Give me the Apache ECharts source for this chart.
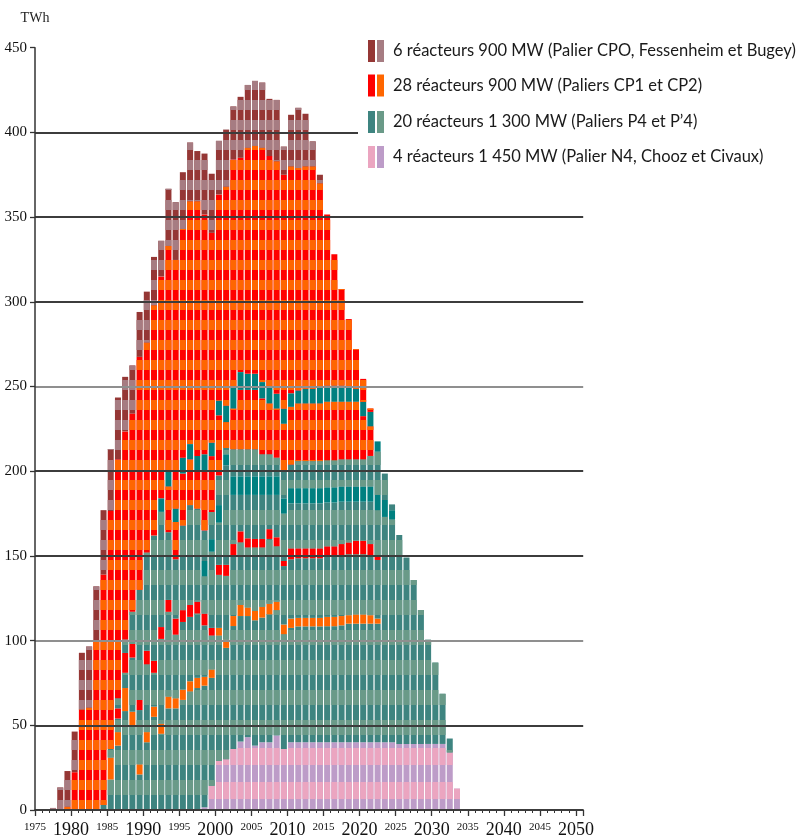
<!DOCTYPE html>
<html><head><meta charset="utf-8">
<script src="https://cdn.jsdelivr.net/npm/echarts@6/dist/echarts.min.js"></script>
<style>html,body{margin:0;padding:0;background:#fff}#c{width:798px;height:839px}</style>
</head><body><div id="c"></div>
<script>
// Axis categories: one slot per year, 1975 .. 2050
const axisYears = [1975,1976,1977,1978,1979,1980,1981,1982,1983,1984,1985,1986,1987,1988,1989,1990,1991,1992,1993,1994,1995,1996,1997,1998,1999,2000,2001,2002,2003,2004,2005,2006,2007,2008,2009,2010,2011,2012,2013,2014,2015,2016,2017,2018,2019,2020,2021,2022,2023,2024,2025,2026,2027,2028,2029,2030,2031,2032,2033,2034,2035,2036,2037,2038,2039,2040,2041,2042,2043,2044,2045,2046,2047,2048,2049,2050];
// Years that have a bar
const years = [1977,1978,1979,1980,1981,1982,1983,1984,1985,1986,1987,1988,1989,1990,1991,1992,1993,1994,1995,1996,1997,1998,1999,2000,2001,2002,2003,2004,2005,2006,2007,2008,2009,2010,2011,2012,2013,2014,2015,2016,2017,2018,2019,2020,2021,2022,2023,2024,2025,2026,2027,2028,2029,2030,2031,2032,2033];

// Stacked layers, bottom to top (TWh)
// N4 (1 450 MW)
const n4 = [0,0,0,0,0,0,0,0,0,0,0,0,0,0,0,0,0,0,0,0,0,1.6,14.3,29,30,36,40.4,43,38,40,40,44,36,40,40,40,40,40,40,40,40,40,40,40,40,40,40,40,39,39,39,39,39,39,39,34,12.6];
// 1 300 MW, lower block
const p4a = [0,0,0,0,0,0,0,3,18,38,58.4,50,21,40,55,45,60,60,65,70,72,71.8,63.7,74,65.7,72.6,74.1,71.5,74,73.6,75.5,74,67.8,67.5,68.4,68.4,68.4,68.4,68.5,68.5,69,70,70,70,70,70,133,131.5,123.4,110,96.8,79,61.5,48,29.6,8.2,0];
// one 900 MW CP reactor interleaved (orange)
const cpA = [0,0,0,0,0,0,0,0,13,8,13.6,8,6,6,6,6,7,6,6,6,6,5.2,5,4.5,4.9,5.9,6.5,5.1,5.6,6.4,6.3,5,5.7,5.5,5,5,5,5,5.5,5.5,5.5,5,5.5,5.5,5,3,0,0,0,0,0,0,0,0,0,0,0];
// 1 300 MW
const p4b = [0,0,0,0,0,0,0,0,5,8,9,32,32,40,20,50,50,37.5,40,38,38,30.4,20,31.3,37.6,35.5,37,35.4,37.4,35,38.2,32.7,34.5,35,35.2,35.2,35.2,35.2,35.8,35.8,36,36,35.5,35.5,35,34.6,0,0,0,0,0,0,0,0,0,0,0];
// one 900 MW CP reactor interleaved (red)
const cpB = [0,0,0,0,0,0,0,0,0,6,11.7,8,6,8,7,7,7,9.5,7,7,7,7,4.5,5.9,6.5,7,6.5,5.4,5,5,5.8,5.3,3,6.5,5.9,5.9,5.9,5.9,5.9,5.9,6.5,7,8,8,7,2.4,0,0,0,0,0,0,0,0,0,0,0];
// 1 300 MW
const p4c = [0,0,0,0,0,0,0,0,0,6,7.9,19,65,58,74,68,40,35,50,59,55,22,45,25,58.8,29,21.5,25.6,26,26,20.2,25,28,26.5,26.5,26.5,26.5,26.5,25.8,25.8,25,24,23,23,25,27,0,0,0,0,0,0,0,0,0,0,0];
// 1 300 MW reactor drawn in bright teal
const tx1 = [0,0,0,0,0,0,0,0,0,0,0,0,0,0,0,8,0,0,0,0,0,9,7.4,10.3,6.5,11,11,11,11,11,11,11,9,9,9,9,9,9,9,9,9,9,9,9,9,9,10,5.5,0,0,0,0,0,0,0,0,0];
// 1 300 MW
const p4d = [0,0,0,0,0,0,0,0,0,0,0,0,0,0,0,0,0,0,0,0,0,18,16,17.5,3.7,16,16,16,16,13,13,11,16,14,16,16,16,16,16,16,16,16,16,16,18,25.6,15.6,3.4,0,0,0,0,0,0,0,0,0];
// 900 MW CP reactors interleaved
const cpC = [0,0,0,0,0,0,0,0,0,0,0,0,0,0,0,0,27,22,30.6,27,22,35,33,35.5,15.3,24,35,35,35,33,30,29,28,34,34,34,34,34,34.5,34.5,34,34,34,25.5,17.5,0,0,0,0,0,0,0,0,0,0,0,0];
// 1 300 MW reactor drawn in bright teal
const tx2 = [0,0,0,0,0,0,0,0,0,0,0,0,0,0,0,0,9,8,9.4,9,9,10,8,8.8,9.8,13,10.5,9.5,9.5,9.6,9.6,8.7,9,8,7.7,8.6,8.6,9.6,9.6,9.6,9.6,8.6,7.6,8.5,8.5,6,0,0,0,0,0,0,0,0,0,0,0];
// 900 MW CP1/CP2 main block
const cp = [0,0,2,22.3,59.4,60.5,100,136,140.5,141,122.9,117,137.5,124,136,131,133,146.7,135,143.4,150.4,141.6,123.8,121.6,129.2,134,126.5,133.5,134.5,138.4,136.4,137.3,138,134,131.3,131.4,131.4,120.4,101,77.4,56.9,40.2,23.4,13.5,2,0,0,0,0,0,0,0,0,0,0,0,0];
// 900 MW CP0, Fessenheim & Bugey
const cp0 = [1.2,13.3,21,24,33.4,36,32,38,36.5,36.5,32.2,28.4,26.5,30,28.5,21,33.7,34.1,33.5,34.6,29.6,35.9,34.9,31.6,33.6,31.3,36,37,38.4,38.4,33.8,36.2,16.6,30.4,35.5,31,14.7,5,0,0,0,0,0,0,0,0,0,0,0,0,0,0,0,0,0,0,0];

const legendNames = [
  '6 réacteurs 900 MW (Palier CPO, Fessenheim et Bugey)',
  '28 réacteurs 900 MW (Paliers CP1 et CP2)',
  '20 réacteurs 1 300 MW (Paliers P4 et P’4)',
  '4 réacteurs 1 450 MW (Palier N4, Chooz et Civaux)'
];
const yTicks = [0,50,100,150,200,250,300,350,400,450];

const C = {
  cp0: ['#953735', '#A67C82'],
  cp:  ['#FF0000', '#FF6600'],
  p4:  ['#3E8480', '#6A9A88'],
  n4:  ['#EBA5C0', '#BD9CC8'],
  teal: '#008080'
};

function stripe(color, h) {
  return {symbol: 'rect', symbolSize: 1, symbolKeepAspect: false, color: color,
          dashArrayX: [[8, 0]], dashArrayY: [h, h], rotation: 0};
}

const layers = [
  {name: legendNames[3], d: n4,  color: C.n4[1], decal: stripe(C.n4[0], 17)},
  {name: legendNames[2], d: p4a, color: C.p4[0], decal: stripe(C.p4[1], 15)},
  {name: legendNames[1], d: cpA, color: C.cp[1]},
  {name: legendNames[2], d: p4b, color: C.p4[0], decal: stripe(C.p4[1], 15)},
  {name: legendNames[1], d: cpB, color: C.cp[0]},
  {name: legendNames[2], d: p4c, color: C.p4[0], decal: stripe(C.p4[1], 15)},
  {name: legendNames[2], d: tx1, color: C.teal},
  {name: legendNames[2], d: p4d, color: C.p4[0], decal: stripe(C.p4[1], 15)},
  {name: legendNames[1], d: cpC, color: C.cp[0], decal: stripe(C.cp[1], 10)},
  {name: legendNames[2], d: tx2, color: C.teal},
  {name: legendNames[1], d: cp,  color: C.cp[0], decal: stripe(C.cp[1], 10)},
  {name: legendNames[0], d: cp0, color: C.cp0[0], decal: stripe(C.cp0[1], 10)}
];

const series = layers.map(function (L) {
  const st = {color: L.color};
  if (L.decal) st.decal = L.decal;
  return {
    type: 'bar', name: L.name, stack: 'total', barWidth: 6, silent: true,
    xAxisIndex: 0, yAxisIndex: 0, itemStyle: st,
    data: axisYears.map(function (y) {
      const i = years.indexOf(y);
      return i < 0 ? 0 : L.d[i];
    })
  };
});

const gridColors = yTicks.map(function (v) { return (v === 100 || v === 250) ? '#8f8f8f' : '#3c3c3c'; });

const rowY = [51, 85.5, 122, 157];
const legendColors = [C.cp0, C.cp, C.p4, C.n4];
const graphic = [{type: 'rect', z: 50, shape: {x: 358, y: 34, width: 440, height: 142}, style: {fill: '#fff'}}];
legendNames.forEach(function (n, i) {
  graphic.push({type: 'rect', z: 51, shape: {x: 368, y: rowY[i] - 11, width: 7, height: 22}, style: {fill: legendColors[i][0]}});
  graphic.push({type: 'rect', z: 51, shape: {x: 377, y: rowY[i] - 11, width: 7, height: 22}, style: {fill: legendColors[i][1]}});
  graphic.push({type: 'text', z: 51, x: 393, y: rowY[i], style: {text: n, fill: '#1a1a1a', font: '16.5px Lato', textVerticalAlign: 'middle'}});
});

const chart = echarts.init(document.getElementById('c'), null, {renderer: 'canvas'});
chart.setOption({
  animation: false,
  backgroundColor: '#fff',
  grid: {left: 35, right: 214.8, top: 47.7, bottom: 26.3, containLabel: false},
  xAxis: [{
    type: 'category', data: axisYears, boundaryGap: true, position: 'bottom',
    axisLine: {show: false}, axisTick: {show: false}, axisLabel: {show: false}, splitLine: {show: false}
  }, {
    type: 'value', min: 1975, max: 2051, interval: 5, position: 'bottom', z: 5,
    axisLine: {show: true, onZero: false, lineStyle: {color: '#333', width: 1.5}},
    axisTick: {show: true, length: 6, lineStyle: {color: '#333', width: 1.3}},
    splitLine: {show: false},
    axisLabel: {
      margin: 11, verticalAlign: 'top', color: '#111',
      formatter: function (v) {
        if (v % 10 === 0) return '{b|' + v + '}';
        if (v % 5 === 0) return '{s|' + v + '}';
        return '';
      },
      rich: {
        b: {fontSize: 18, fontFamily: 'Liberation Serif', color: '#111', lineHeight: 18},
        s: {fontSize: 11, fontFamily: 'Liberation Serif', color: '#111', lineHeight: 13}
      }
    }
  }, {
    type: 'value', min: 1975, max: 2051, interval: 1, position: 'bottom', z: 5,
    axisLine: {show: false}, axisLabel: {show: false}, splitLine: {show: false},
    axisTick: {show: true, length: 3, lineStyle: {color: '#333', width: 1}}
  }],
  yAxis: {
    type: 'value', min: 0, max: 450, interval: 50, z: 10,
    name: 'TWh', nameLocation: 'end', nameGap: 22,
    nameTextStyle: {fontFamily: 'Liberation Serif', fontSize: 14, color: '#222', align: 'center'},
    axisLine: {show: true, lineStyle: {color: '#333', width: 1.5}},
    axisTick: {show: true, length: 5, lineStyle: {color: '#333', width: 1.3}},
    axisLabel: {fontFamily: 'Liberation Serif', fontSize: 15, color: '#111', margin: 8},
    splitLine: {show: true, showMaxLine: false, lineStyle: {color: gridColors, width: 2}}
  },
  graphic: graphic,
  series: series
});
</script>
</body></html>
